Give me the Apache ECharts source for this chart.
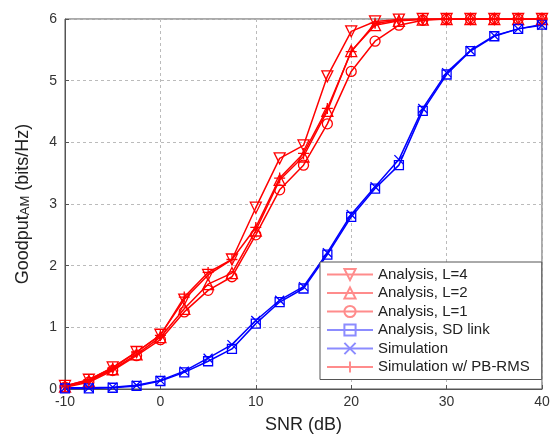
<!DOCTYPE html>
<html><head><meta charset="utf-8">
<script src="https://cdn.jsdelivr.net/npm/echarts@6/dist/echarts.min.js"></script>
<style>html,body{margin:0;padding:0;background:#fff}#c{width:556px;height:439px}</style>
</head><body><div id="c"></div>
<script>
var snr = [-10,-7.5,-5,-2.5,0,2.5,5,7.5,10,12.5,15,17.5,20,22.5,25,27.5,30,32.5,35,37.5,40];
var xTicks = [-10,0,10,20,30,40];
var yTicks = [0,1,2,3,4,5,6];
var anaL4 = [0.05,0.15,0.35,0.60,0.88,1.45,1.85,2.10,2.94,3.74,3.95,5.07,5.80,5.96,5.99,6,6,6,6,6,6];
var anaL2 = [0.04,0.13,0.32,0.56,0.84,1.30,1.70,1.88,2.57,3.39,3.77,4.51,5.48,5.90,5.97,5.99,6,6,6,6,6];
var anaL1 = [0.03,0.11,0.30,0.54,0.80,1.25,1.60,1.82,2.50,3.23,3.63,4.30,5.15,5.64,5.90,5.98,6,6,6,6,6];
var anaSD = [0.01,0.01,0.02,0.05,0.13,0.27,0.45,0.65,1.06,1.41,1.63,2.18,2.79,3.25,3.63,4.51,5.10,5.48,5.72,5.84,5.91];
var simSD = [0.02,0.02,0.03,0.06,0.14,0.29,0.50,0.72,1.11,1.44,1.66,2.21,2.83,3.28,3.72,4.55,5.13,5.49,5.73,5.84,5.90];
var simPB = [0.05,0.15,0.34,0.60,0.87,1.49,1.89,2.10,2.62,3.42,3.82,4.55,5.47,5.93,5.98,6,6,6,6,6,6];
var names = ['Analysis, L=4','Analysis, L=2','Analysis, L=1','Analysis, SD link','Simulation','Simulation w/ PB-RMS'];

function pairs(arr){ return snr.map(function(x,i){ return [x, arr[i]]; }); }
var RED = '#ff0000', BLUE = '#0000ff';
var PALE_RED = '#ff8c8c', PALE_BLUE = '#8c8cff';
function mk(name, data, color, symbol, rotate, size){
  return {
    name: name, type: 'line', data: pairs(data),
    symbol: symbol, symbolRotate: rotate || 0, symbolSize: size || 10,
    lineStyle: {color: color, width: 1.5},
    itemStyle: {color: 'rgba(255,255,255,0)', borderColor: color, borderWidth: 1.3},
    emphasis: {disabled: true}, animation: false, z: 3
  };
}
function legItem(name, pale){
  return {name: name, lineStyle: {color: pale, opacity: 1}, itemStyle: {borderColor: pale, color: 'rgba(255,255,255,0)'}};
}
var xPath = 'path://M0,0L10,10M10,0L0,10';
var plusPath = 'path://M5,0L5,10M0,5L10,5';
var chart = echarts.init(document.getElementById('c'));
chart.setOption({
  backgroundColor: '#fff',
  animation: false,
  grid: {left: 65, right: 14, top: 19, bottom: 46, show: true, borderColor: '#555', borderWidth: 1},
  xAxis: {
    type: 'value', min: -10, max: 40, interval: 10,
    name: 'SNR (dB)', nameLocation: 'middle', nameGap: 27,
    nameTextStyle: {fontFamily: 'Liberation Sans', fontSize: 18, color: '#222'},
    axisLine: {onZero: false, lineStyle: {color: '#555'}},
    axisTick: {inside: true, length: 4, lineStyle: {color: '#555'}},
    axisLabel: {fontFamily: 'Liberation Sans', fontSize: 14, color: '#333', margin: 6,
      formatter: function(v){ return xTicks.indexOf(v) >= 0 ? String(v) : ''; }},
    splitLine: {show: true, lineStyle: {color: '#bbb', type: [3,3]}}
  },
  yAxis: {
    type: 'value', min: 0, max: 6, interval: 1,
    name: '{a|Goodput}{s|AM}{a| (bits/Hz)}', nameLocation: 'middle', nameGap: 33,
    nameTextStyle: {rich: {
      a: {fontFamily: 'Liberation Sans', fontSize: 18, color: '#222'},
      s: {fontFamily: 'Liberation Sans', fontSize: 13, color: '#222', verticalAlign: 'bottom', lineHeight: 10}
    }},
    axisLine: {onZero: false, lineStyle: {color: '#555'}},
    axisTick: {inside: true, length: 4, lineStyle: {color: '#555'}},
    axisLabel: {fontFamily: 'Liberation Sans', fontSize: 14, color: '#333', margin: 8,
      formatter: function(v){ return yTicks.indexOf(v) >= 0 ? String(v) : ''; }},
    splitLine: {show: true, lineStyle: {color: '#bbb', type: [3,3]}}
  },
  legend: {
    orient: 'vertical', left: 320, top: 262, width: 210,
    backgroundColor: '#fff', borderColor: '#555', borderWidth: 1,
    padding: [5, 12, 5, 6], itemWidth: 46, itemHeight: 14, itemGap: 3.5,
    textStyle: {fontFamily: 'Liberation Sans', fontSize: 15, color: '#222'},
    data: [legItem(names[0], PALE_RED), legItem(names[1], PALE_RED), legItem(names[2], PALE_RED),
           legItem(names[3], PALE_BLUE), legItem(names[4], PALE_BLUE), legItem(names[5], PALE_RED)],
    selectedMode: false
  },
  series: [
    mk(names[0], anaL4, RED, 'triangle', 180, 11),
    mk(names[1], anaL2, RED, 'triangle', 0, 11),
    mk(names[2], anaL1, RED, 'circle', 0, 10),
    mk(names[3], anaSD, BLUE, 'rect', 0, 9),
    mk(names[4], simSD, BLUE, xPath, 0, 9),
    mk(names[5], simPB, RED, plusPath, 0, 11)
  ]
});
</script></body></html>
